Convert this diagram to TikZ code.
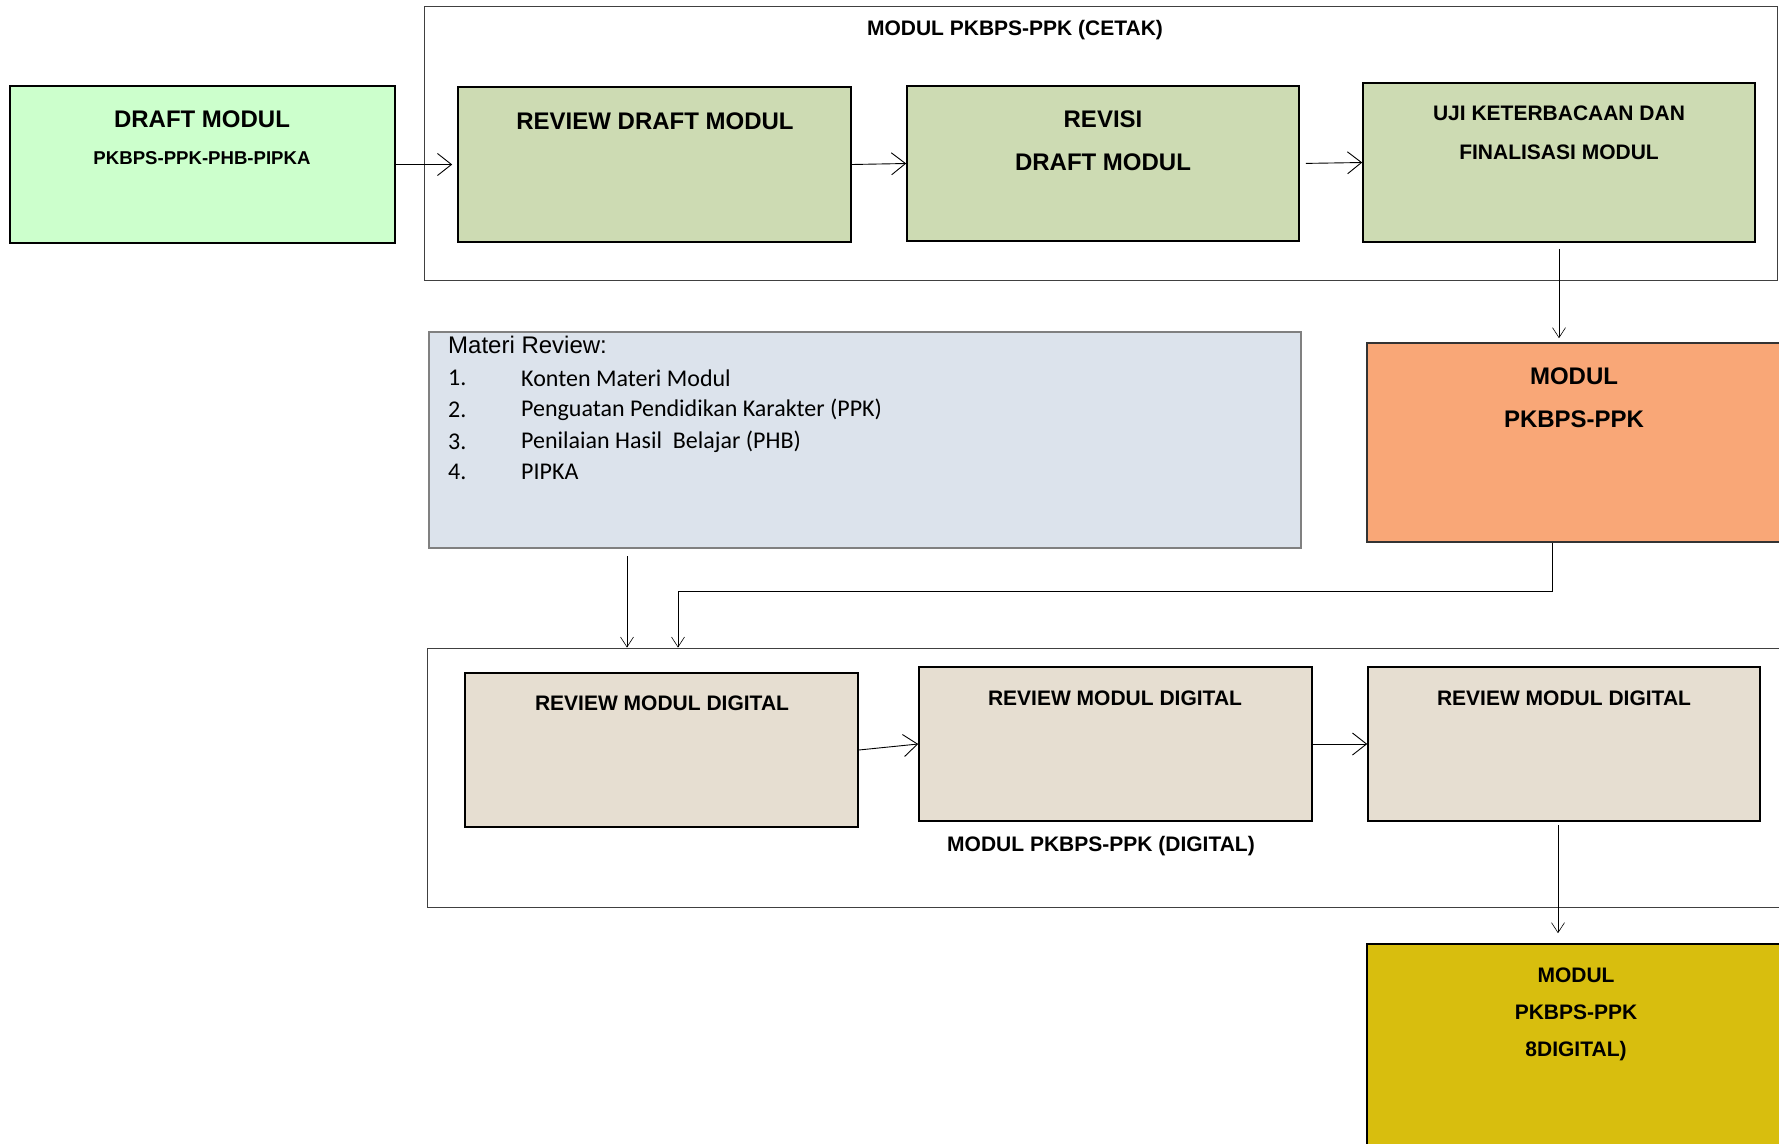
\documentclass[tikz,border=0pt]{standalone}
\usepackage{fontspec}
\setmainfont{Liberation Sans}
\newfontfamily\listfont{Carlito}
\usetikzlibrary{arrows.meta,positioning,calc}

\definecolor{draftgreen}{RGB}{204,255,204}
\definecolor{stagegreen}{RGB}{205,219,179}
\definecolor{materiblue}{RGB}{220,227,236}
\definecolor{modulorange}{RGB}{249,167,119}
\definecolor{digitalbeige}{RGB}{230,222,209}
\definecolor{digitalyellow}{RGB}{216,190,14}

\tikzset{
  stagebox/.style={draw=black, line width=1.6pt, inner sep=0pt},
  framebox/.style={draw=black!75, line width=0.9pt, inner sep=0pt},
  boxtext/.style={font=\bfseries\fontsize{#1}{#1}\selectfont, inner sep=0pt},
  arr/.style={-{Straight Barb[length=14pt,width=22pt]}, line width=0.9pt},
  downarr/.style={-{Straight Barb[length=10pt,width=13pt]}, line width=0.6pt}
}

\begin{document}
\begin{tikzpicture}[x=1pt,y=-1pt]
\useasboundingbox (0,0) rectangle (1779,1143);
%----------------------------------------------------------
	% Frames
	%------------------------------------------------------
	\node[framebox, minimum width=1353pt, minimum height=274pt] (cetak) at (1100.5,143) {};
	\node[framebox, minimum width=1358pt, minimum height=259pt] (digital) at (1106,777.5) {};
	\node[boxtext=21] (cetaktitle) at (1015,30) {MODUL PKBPS-PPK (CETAK)};
	\node[boxtext=21] (digitaltitle) at (1101,846) {MODUL PKBPS-PPK (DIGITAL)};

	%Cetak row
	%------------------------------------------------------
	\node[stagebox, fill=draftgreen, minimum width=385pt, minimum height=157pt] (draft) at (202.5,164.5) {};
	\node[stagebox, fill=stagegreen, minimum width=393pt, minimum height=155pt] (review) at (654.5,164.5) {};
	\node[stagebox, fill=stagegreen, minimum width=392pt, minimum height=155pt] (revisi) at (1103,163.5) {};
	\node[stagebox, fill=stagegreen, minimum width=392pt, minimum height=159pt] (uji) at (1559,162.5) {};

	\node[boxtext=24] (draft1) at (202,119) {DRAFT MODUL};
	\node[boxtext=18.6] (draft2) at (202,158) {PKBPS-PPK-PHB-PIPKA};
	\node[boxtext=24] (review1) at (655,121) {REVIEW DRAFT MODUL};
	\node[boxtext=24] (revisi1) at (1103,119) {REVISI};
	\node[boxtext=24] (revisi2) at (1103,162) {DRAFT MODUL};
	\node[boxtext=21] (uji1) at (1559,113) {UJI KETERBACAAN DAN};
	\node[boxtext=21] (uji2) at (1559,152) {FINALISASI MODUL};

	%Materi review
	%------------------------------------------------------
	\node[draw=black!50, line width=1.6pt, fill=materiblue, minimum width=872pt, minimum height=216pt, inner sep=0pt] (materi) at (865,440) {};
	\node[anchor=west, inner sep=0pt, font=\fontsize{24}{24}\selectfont] (materititle) at (448,345) {Materi Review:};
	\foreach \n/\y/\t in {1/378/Konten Materi Modul,
	                      2/410/Penguatan Pendidikan Karakter (PPK),
	                      3/442/Penilaian Hasil\ \ Belajar (PHB),
	                      4/472/PIPKA}{
		\node[anchor=west, inner sep=0pt, font=\listfont\fontsize{24}{24}\selectfont] (num\n) at (448,\y) {\n.};
		\node[anchor=west, inner sep=0pt, font=\listfont\fontsize{24}{24}\selectfont] (item\n) at (521,\y) {\t};
	}

	%Modul cetak
	\node[draw=black!80, line width=1.6pt, fill=modulorange, minimum width=433pt, minimum height=199pt, inner sep=0pt] (cetakmodul) at (1583.5,442.5) {};
	\node[boxtext=24] (cetakmodul1) at (1574,376) {MODUL};
	\node[boxtext=24] (cetakmodul2) at (1574,419) {PKBPS-PPK};

	%Digital row
	%------------------------------------------------------
	\node[stagebox, fill=digitalbeige, minimum width=393pt, minimum height=154pt] (digital1) at (661.5,750) {};
	\node[stagebox, fill=digitalbeige, minimum width=393pt, minimum height=154pt] (digital2) at (1115.5,744) {};
	\node[stagebox, fill=digitalbeige, minimum width=392pt, minimum height=154pt] (digital3) at (1564,744) {};
	\node[boxtext=21] (digital1text) at (662,703) {REVIEW MODUL DIGITAL};
	\node[boxtext=21] (digital2text) at (1115,698) {REVIEW MODUL DIGITAL};
	\node[boxtext=21] (digital3text) at (1564,698) {REVIEW MODUL DIGITAL};

	%Modul digital
	\node[stagebox, fill=digitalyellow, minimum width=433pt, minimum height=216pt] (digitalmodul) at (1583.5,1052) {};
	\node[boxtext=21] (digitalmodul1) at (1576,975) {MODUL};
	\node[boxtext=21] (digitalmodul2) at (1576,1012) {PKBPS-PPK};
	\node[boxtext=21] (digitalmodul3) at (1576,1051) {8DIGITAL)};

	%Arrows
	%------------------------------------------------------
	\draw[arr, shorten >=5pt] (draft.east) -- (review.west);
	\draw[arr] (review.east) -- (revisi.west);
	\draw[arr, shorten <=6pt] (revisi.east) -- (uji.west);
	\draw[downarr, shorten <=6pt, shorten >=4pt] (uji.south) -- (uji.south |- cetakmodul.north);

	\coordinate (tap) at (1552,591);
	\coordinate (drop) at (678,591);
	\coordinate (materidrop) at (627,556);
	\draw[downarr] (tap |- cetakmodul.south) -- (tap) -- (drop) -- (drop |- digital.north);
	\draw[downarr] (materidrop) -- (materidrop |- digital.north);

	\draw[arr] (digital1.east) -- (digital2.west);
	\draw[arr] (digital2.east) -- (digital3.west);
	\coordinate (digitaldrop) at (1558,825);
	\draw[downarr, shorten >=10pt] (digitaldrop) -- (digitaldrop |- digitalmodul.north);
\end{tikzpicture}
\end{document}
